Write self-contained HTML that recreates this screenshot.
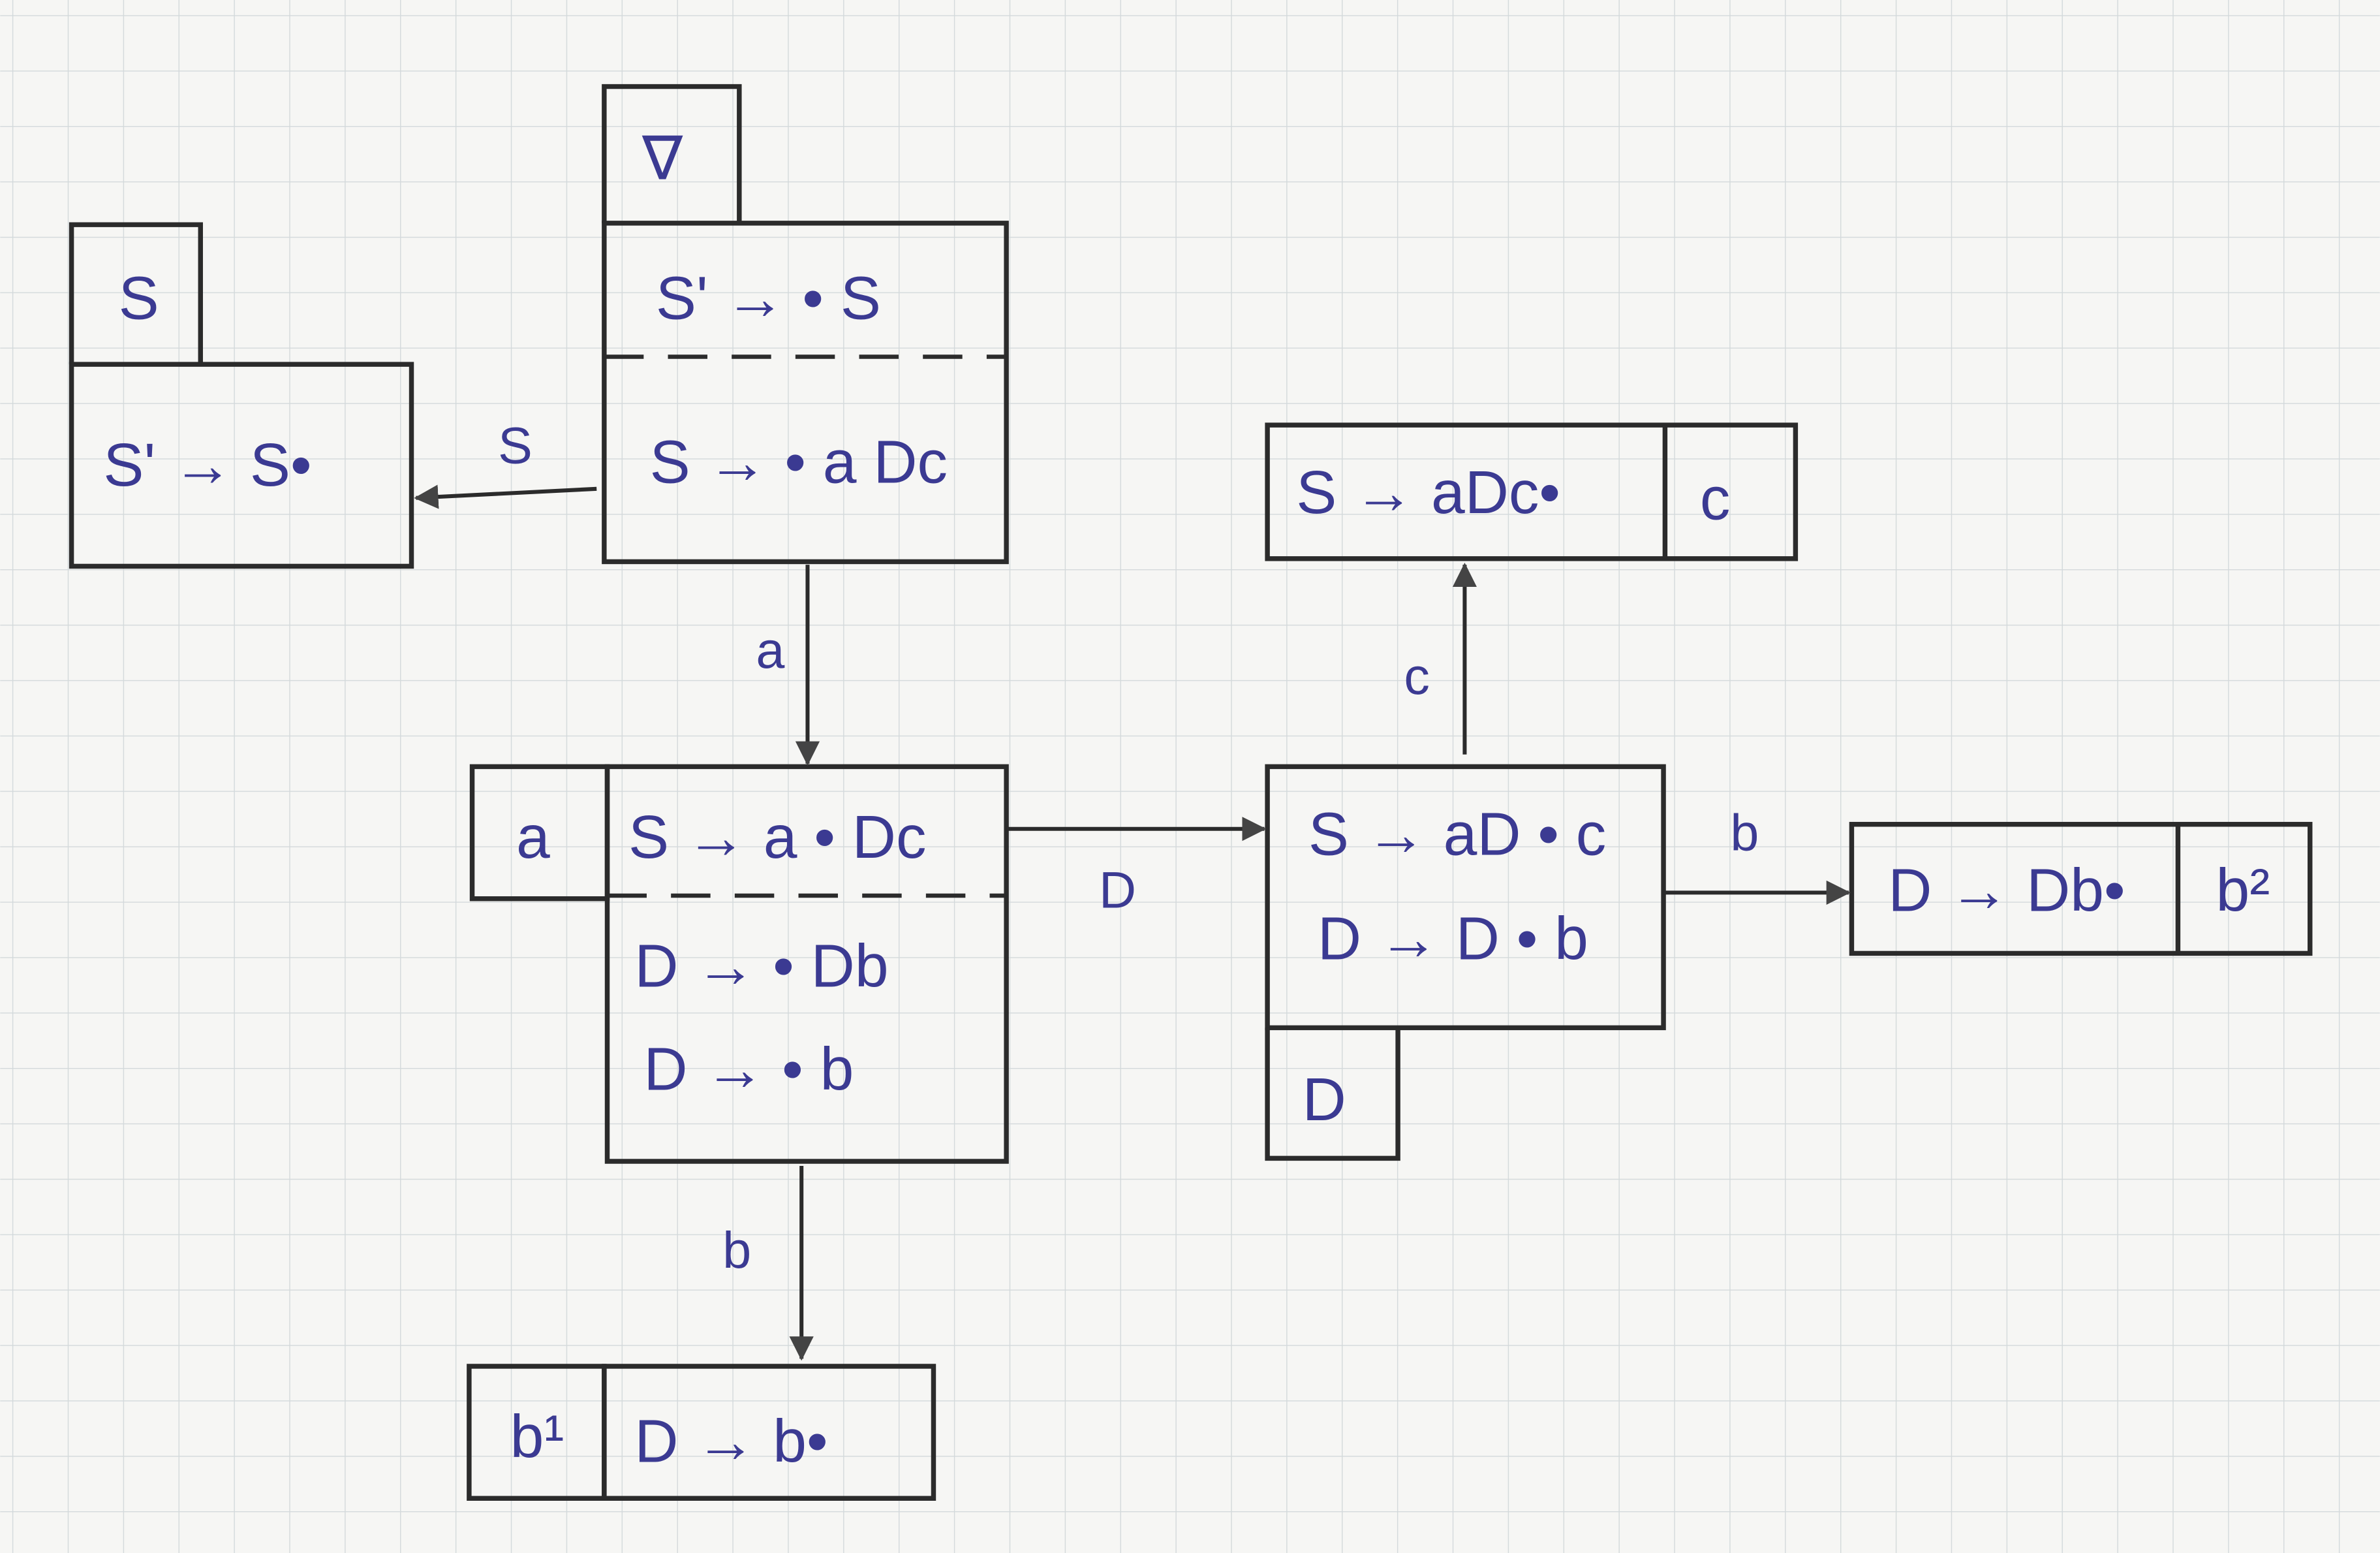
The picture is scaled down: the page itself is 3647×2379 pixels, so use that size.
<!DOCTYPE html>
<html><head><meta charset="utf-8"><title>LR(0) automaton sketch</title>
<style>
html,body{margin:0;padding:0;background:#f6f6f4;}
svg{display:block;}
.box{fill:none;stroke:#2b2b2b;stroke-width:3.2;}
.dash{stroke:#2b2b2b;stroke-width:2.8;stroke-dasharray:26 16;}
.arr{stroke:#2b2b2b;stroke-width:2.6;fill:none;}
.t{font-family:"Liberation Sans",sans-serif;fill:#3b3a92;font-size:40px;}
.l{font-family:"Liberation Sans",sans-serif;fill:#3b3a92;font-size:34px;}
</style></head>
<body>
<svg width="3647" height="2379" viewBox="0 0 1568 1023" xmlns="http://www.w3.org/2000/svg">
<defs>
<pattern id="grid" width="36.5" height="36.5" patternUnits="userSpaceOnUse" x="8" y="10">
<path d="M36.5 0 L0 0 0 36.5" fill="none" stroke="#d3d9db" stroke-width="1.2"/>
</pattern>
<marker id="ah" viewBox="0 0 12 12" refX="11" refY="6" markerWidth="16" markerHeight="16" orient="auto" markerUnits="userSpaceOnUse">
<path d="M0 0 L12 6 L0 12 z" fill="#444"/>
</marker>
</defs>
<rect width="1568" height="1023" fill="#f6f6f4"/>
<rect width="1568" height="1023" fill="url(#grid)"/>

<g>
<path class="box" d="M398 147 L398 57 L487 57 L487 147"/>
<rect class="box" x="398" y="147" width="265" height="223"/>
<line class="dash" x1="398" y1="235" x2="663" y2="235"/>
<text class="t" x="423" y="118">∇</text>
<text class="t" x="432" y="210">S' → • S</text>
<text class="t" x="428" y="318">S → • a Dc</text>
</g>

<g>
<path class="box" d="M47 240 L47 148 L132 148 L132 240"/>
<rect class="box" x="47" y="240" width="224" height="133"/>
<text class="t" x="78" y="210">S</text>
<text class="t" x="68" y="320">S' → S•</text>
</g>
<line class="arr" x1="393" y1="322" x2="274" y2="328" marker-end="url(#ah)"/>
<text class="l" x="328" y="305">S</text>

<g>
<rect class="box" x="311" y="505" width="89" height="87"/>
<rect class="box" x="400" y="505" width="263" height="260"/>
<line class="dash" x1="400" y1="590" x2="663" y2="590"/>
<text class="t" x="340" y="565">a</text>
<text class="t" x="414" y="565">S → a • Dc</text>
<text class="t" x="418" y="650">D → • Db</text>
<text class="t" x="424" y="718">D → • b</text>
</g>
<line class="arr" x1="532" y1="372" x2="532" y2="503" marker-end="url(#ah)"/>
<text class="l" x="498" y="440">a</text>

<g>
<rect class="box" x="309" y="900" width="89" height="87"/>
<rect class="box" x="398" y="900" width="217" height="87"/>
<text class="t" x="336" y="960">b¹</text>
<text class="t" x="418" y="963">D → b•</text>
</g>
<line class="arr" x1="528" y1="768" x2="528" y2="895" marker-end="url(#ah)"/>
<text class="l" x="476" y="835">b</text>

<g>
<rect class="box" x="835" y="505" width="261" height="172"/>
<path class="box" d="M835 677 L835 763 L921 763 L921 677"/>
<text class="t" x="862" y="563">S → aD • c</text>
<text class="t" x="868" y="632">D → D • b</text>
<text class="t" x="858" y="738">D</text>
</g>
<line class="arr" x1="663" y1="546" x2="833" y2="546" marker-end="url(#ah)"/>
<text class="l" x="724" y="598">D</text>

<g>
<rect class="box" x="835" y="280" width="348" height="88"/>
<line class="box" x1="1097" y1="280" x2="1097" y2="368"/>
<text class="t" x="854" y="338">S → aDc•</text>
<text class="t" x="1120" y="342">c</text>
</g>
<line class="arr" x1="965" y1="497" x2="965" y2="372" marker-end="url(#ah)"/>
<text class="l" x="925" y="457">c</text>

<g>
<rect class="box" x="1220" y="543" width="302" height="85"/>
<line class="box" x1="1435" y1="543" x2="1435" y2="628"/>
<text class="t" x="1244" y="600">D → Db•</text>
<text class="t" x="1460" y="600">b²</text>
</g>
<line class="arr" x1="1096" y1="588" x2="1218" y2="588" marker-end="url(#ah)"/>
<text class="l" x="1140" y="560">b</text>
</svg>
</body></html>
